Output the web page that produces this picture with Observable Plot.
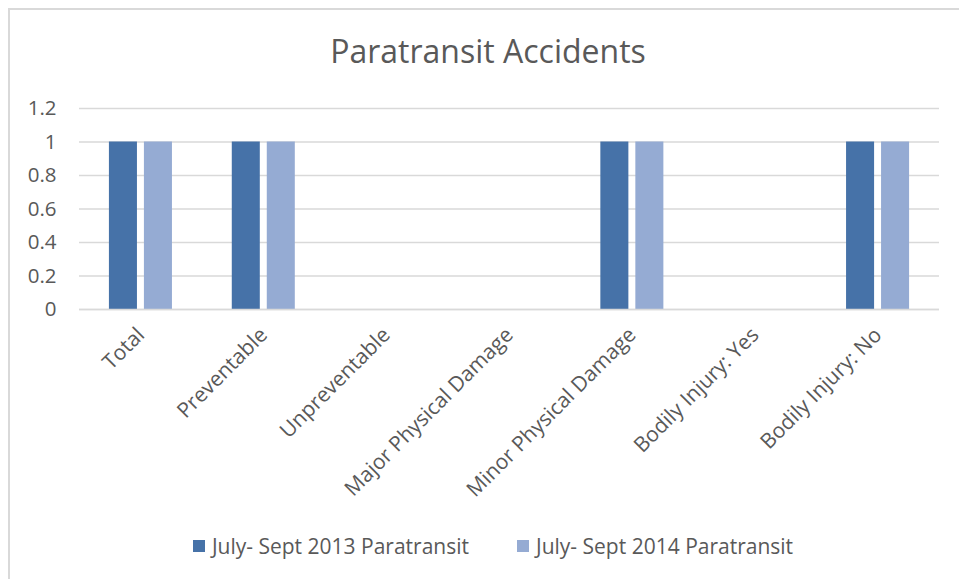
<!DOCTYPE html>
<html>
<head>
<meta charset="utf-8">
<script src="https://cdn.jsdelivr.net/npm/d3@7"></script>
<script src="https://cdn.jsdelivr.net/npm/@observablehq/plot@0.6"></script>
<style>
  html, body { margin: 0; padding: 0; background: #fff; }
  body { width: 959px; height: 579px; overflow: hidden; position: relative; font-family: "Open Sans", sans-serif; color: #595959; }
  #frame { position: absolute; left: 8px; top: 8px; width: 1000px; height: 620px; border-left: 2px solid #d9d9d9; border-top: 2px solid #d9d9d9; box-sizing: border-box; }
  #title { position: absolute; left: 0; top: 29px; width: 976px; text-align: center; font-size: 32px; line-height: 44px; color: #595959; }
  #chart { position: absolute; left: 0; top: 90px; }
  #legend { position: absolute; left: 0; top: 531px; width: 986px; display: flex; justify-content: center; gap: 48px; font-size: 21px; line-height: 30px; }
  .item { display: flex; align-items: center; }
  .sw { width: 12px; height: 12px; margin-right: 7px; }
</style>
</head>
<body>
<div id="frame"></div>
<div id="title">Paratransit Accidents</div>
<div id="chart"></div>
<div id="legend"></div>
<script>
const categories = ["Total", "Preventable", "Unpreventable", "Major Physical Damage", "Minor Physical Damage", "Bodily Injury: Yes", "Bodily Injury: No"];
const seriesNames = ["July- Sept 2013 Paratransit", "July- Sept 2014 Paratransit"];
const values2013 = [1, 1, 0, 0, 1, 0, 1];
const values2014 = [1, 1, 0, 0, 1, 0, 1];
const seriesColors = ["#4672a8", "#95abd3"];
const yTicks = [0, 0.2, 0.4, 0.6, 0.8, 1, 1.2];

const data2013 = categories.map((c, i) => ({category: c, series: seriesNames[0], value: values2013[i]}));
const data2014 = categories.map((c, i) => ({category: c, series: seriesNames[1], value: values2014[i]}));

const chart = Plot.plot({
  width: 959,
  height: 435,
  marginTop: 18,
  marginBottom: 216,
  marginLeft: 79,
  marginRight: 20,
  style: {fontFamily: "'Open Sans', sans-serif", fontSize: "20px", color: "#595959", background: "transparent"},
  x: {domain: categories, paddingInner: 0.487, paddingOuter: 0.2435, round: false, label: null},
  y: {domain: [0, 1.2], label: null},
  color: {domain: seriesNames, range: seriesColors},
  marks: [
    Plot.gridY(yTicks, {stroke: "#d9d9d9", strokeOpacity: 1, strokeWidth: 1.3}),
    Plot.barY(data2013, {x: "category", y: "value", fill: "series", insetRight: 35}),
    Plot.barY(data2014, {x: "category", y: "value", fill: "series", insetLeft: 35}),
    Plot.ruleY([0], {stroke: "#d9d9d9", strokeWidth: 1.5}),
    Plot.axisY(yTicks, {tickSize: 0, tickPadding: 23, tickFormat: d => d3.format("~g")(d), fill: "#595959", fontSize: 20.5}),
    Plot.axisX({tickSize: 0, tickPadding: 22, tickRotate: -45, fill: "#595959", fontSize: 21})
  ]
});
document.getElementById("chart").appendChild(chart);

const legend = document.getElementById("legend");
seriesNames.forEach((name, i) => {
  const item = document.createElement("div");
  item.className = "item";
  const sw = document.createElement("span");
  sw.className = "sw";
  sw.style.background = seriesColors[i];
  const label = document.createElement("span");
  label.textContent = name;
  item.appendChild(sw);
  item.appendChild(label);
  legend.appendChild(item);
});
</script>
</body>
</html>
